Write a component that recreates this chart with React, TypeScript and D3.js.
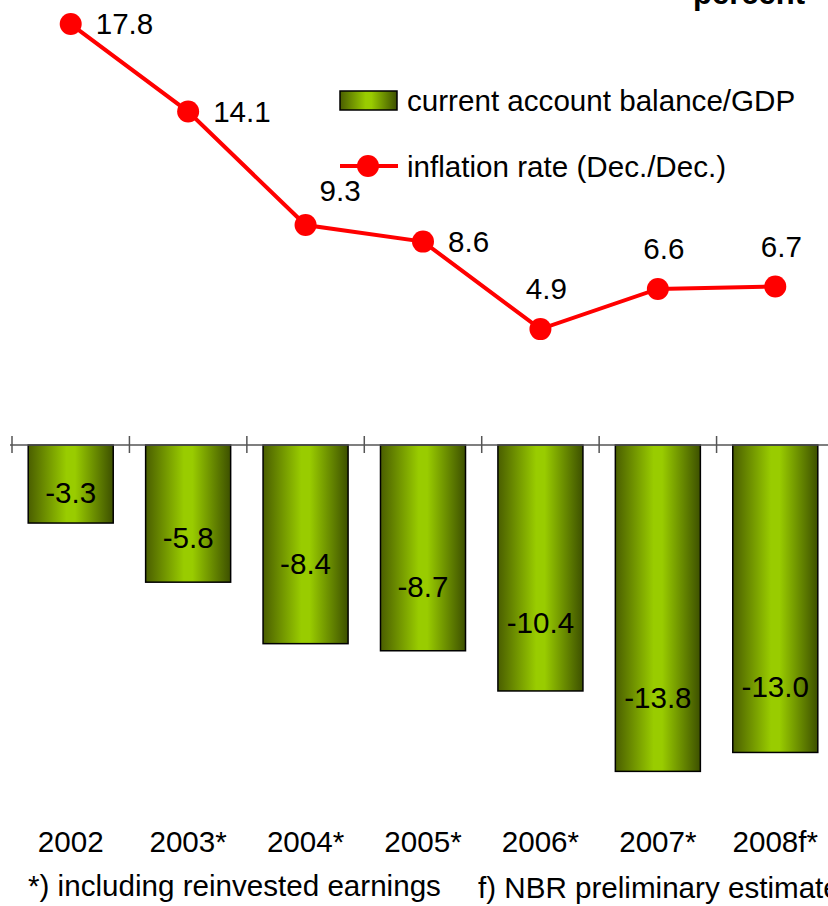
import React from "react";
import * as d3 from "d3";

const categories = ["2002", "2003*", "2004*", "2005*", "2006*", "2007*", "2008f*"];
const currentAccount = [-3.3, -5.8, -8.4, -8.7, -10.4, -13.8, -13.0];
const inflation = [17.8, 14.1, 9.3, 8.6, 4.9, 6.6, 6.7];
const barLabelAt = [-2.0, -3.9, -5.0, -6.0, -7.5, -10.7, -10.2];
const lineLabelPlacement = ["right", "right", "aboveRight", "right", "above", "above", "above"];
const seriesNames = ["current account balance/GDP", "inflation rate (Dec./Dec.)"];
const unitLabel = "percent";
const footnotes = ["*) including reinvested earnings", "f) NBR preliminary estimate"];

const W = 828;
const H = 906;
const FONT = "'Liberation Sans', Arial, sans-serif";
const FS = 29.6;

export default function App() {
  const x = d3.scaleBand<string>().domain(categories).range([12, 834]).paddingInner(0.276).paddingOuter(0.138);
  const pxPerUnit = 23.65;
  const y0 = 445;
  const y = d3.scaleLinear().domain([-14, 18]).range([y0 + 14 * pxPerUnit, y0 - 18 * pxPerUnit]);
  const step = x.step();
  const cx = (c: string) => (x(c) as number) + x.bandwidth() / 2;
  const line = d3.line<number>().x((_, i) => cx(categories[i])).y((d) => y(d));
  const tickXs = d3.range(categories.length + 1).map((i) => 12 + i * step);

  const labelOffset = (p: string) => {
    if (p === "right") return { dx: 25, dy: 0, anchor: "start" };
    if (p === "aboveRight") return { dx: 14, dy: -34, anchor: "start" };
    return { dx: 6, dy: -40, anchor: "middle" };
  };

  return (
    <svg width={W} height={H} style={{ position: "absolute", left: 0, top: 0 }} fontFamily={FONT}>
      <defs>
        <linearGradient id="barGrad" x1="0" x2="1" y1="0" y2="0">
          <stop offset="0%" stopColor="#4a5e00" />
          <stop offset="45%" stopColor="#99cc00" />
          <stop offset="55%" stopColor="#99cc00" />
          <stop offset="100%" stopColor="#3d5000" />
        </linearGradient>
      </defs>
      <rect width={W} height={H} fill="#fff" />
      {/* unit label */}
      <text x={805} y={4} textAnchor="end" fontSize={31} fontWeight="bold" fill="#000">{unitLabel}</text>

      {/* bars */}
      {categories.map((c, i) => (
        <rect key={c} x={x(c)} y={y(0)} width={x.bandwidth()} height={y(currentAccount[i]) - y(0)}
          fill="url(#barGrad)" stroke="#000" strokeWidth={1.5} />
      ))}
      {categories.map((c, i) => (
        <text key={"bl" + c} x={cx(c)} y={y(barLabelAt[i])} dy="0.35em" textAnchor="middle" fontSize={FS} fill="#000">
          {currentAccount[i].toFixed(1)}
        </text>
      ))}

      {/* axis */}
      <line x1={10} x2={W} y1={y(0)} y2={y(0)} stroke="#555" strokeWidth={1.5} />
      {tickXs.map((t, i) => (
        <line key={"t" + i} x1={t} x2={t} y1={y(0) - 9} y2={y(0) + 8} stroke="#555" strokeWidth={1.5} />
      ))}
      {categories.map((c) => (
        <text key={"cl" + c} x={cx(c)} y={852} textAnchor="middle" fontSize={FS} fill="#000">{c}</text>
      ))}

      {/* line */}
      <path d={line(inflation) || ""} fill="none" stroke="#ff0000" strokeWidth={4} />
      {inflation.map((v, i) => (
        <circle key={"p" + i} cx={cx(categories[i])} cy={y(v)} r={11} fill="#ff0000" />
      ))}
      {inflation.map((v, i) => {
        const o = labelOffset(lineLabelPlacement[i]);
        return (
          <text key={"ll" + i} x={cx(categories[i]) + o.dx} y={y(v) + o.dy} dy="0.35em" textAnchor={o.anchor}
            fontSize={FS} fill="#000">{v.toFixed(1)}</text>
        );
      })}

      {/* legend */}
      <rect x={340} y={91} width={57} height={19} fill="url(#barGrad)" stroke="#000" strokeWidth={1.5} />
      <text x={407} y={101} dy="0.35em" fontSize={FS} fill="#000">{seriesNames[0]}</text>
      <line x1={340} x2={398} y1={166} y2={166} stroke="#ff0000" strokeWidth={4} />
      <circle cx={368} cy={166} r={11} fill="#ff0000" />
      <text x={407} y={167} dy="0.35em" fontSize={FS} fill="#000">{seriesNames[1]}</text>

      {/* footnotes */}
      <text x={28} y={896} fontSize={FS} fill="#000">{footnotes[0]}</text>
      <text x={478} y={898} fontSize={FS} fill="#000">{footnotes[1]}</text>
    </svg>
  );
}
